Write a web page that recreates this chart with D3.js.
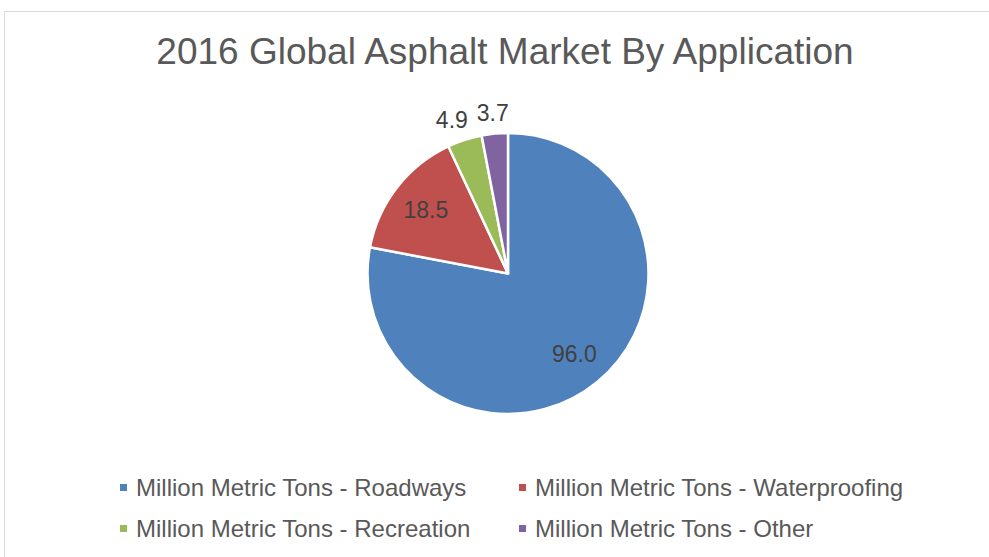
<!DOCTYPE html>
<html>
<head>
<meta charset="utf-8">
<script src="https://cdn.jsdelivr.net/npm/d3@7"></script>
<style>
    body { margin: 0; background: #fff; }
    text { font-family: "Liberation Sans", Arial, sans-serif; }
</style>
</head>
<body>
<div id="wrapper"></div>
<script>
const categories = ["Roadways", "Waterproofing", "Recreation", "Other"];
const values = [96.0, 18.5, 4.9, 3.7];
const seriesPrefix = "Million Metric Tons - ";
const colors = ["#4f81bd", "#c0504d", "#9bbb59", "#8064a2"];
const titleText = "2016 Global Asphalt Market By Application";

let dimension = {
    width: 989,
    height: 557,
    cx: 508,
    cy: 273.5,
    radius: 140.5
}

const svg = d3.select("#wrapper").append("svg")
    .attr("width", dimension.width)
    .attr("height", dimension.height);

// chart frame (only top and left edges are visible in the picture)
svg.append("path")
    .attr("d", "M4.5,557 L4.5,11.5 L989,11.5")
    .attr("fill", "none")
    .attr("stroke", "#d9d9d9")
    .attr("stroke-width", 1);

svg.append("text")
    .attr("x", 505)
    .attr("y", 64)
    .attr("text-anchor", "middle")
    .attr("font-size", 37)
    .attr("fill", "#595959")
    .text(titleText);

const data = categories.map((c, i) => ({ name: c, value: values[i], color: colors[i] }));

const pie = d3.pie().sort(null).value(d => d.value);
const arcs = pie(data);
const total = d3.sum(values);

const arc = d3.arc().innerRadius(0).outerRadius(dimension.radius);
const innerLabelArc = d3.arc().innerRadius(dimension.radius * 0.74).outerRadius(dimension.radius * 0.74);
const outerLabelArc = d3.arc().innerRadius(dimension.radius + 20.5).outerRadius(dimension.radius + 20.5);

const bounds = svg.append("g")
    .attr("transform", `translate(${dimension.cx},${dimension.cy})`);

bounds.selectAll("path.slice")
    .data(arcs)
    .enter()
    .append("path")
    .attr("class", "slice")
    .attr("d", arc)
    .attr("fill", d => d.data.color)
    .attr("stroke", "#ffffff")
    .attr("stroke-width", 2.5)
    .attr("stroke-linejoin", "round");

const labels = bounds.selectAll("text.label")
    .data(arcs)
    .enter()
    .append("text")
    .attr("class", "label")
    .attr("text-anchor", "middle")
    .attr("dy", "0.35em")
    .attr("font-size", 23)
    .attr("fill", "#404040")
    .text(d => d.data.value.toFixed(1))
    .each(function (d) {
        const inside = d.data.value / total > 0.1;
        const p = inside ? innerLabelArc.centroid(d) : outerLabelArc.centroid(d);
        d.lx = p[0];
        d.ly = p[1];
        d.w = this.getComputedTextLength();
    });

// push outside labels apart, right to left
const outside = arcs.filter(d => d.data.value / total <= 0.1).reverse();
for (let i = 1; i < outside.length; i++) {
    const prev = outside[i - 1], cur = outside[i];
    const limit = prev.lx - prev.w / 2 - 9;
    if (cur.lx + cur.w / 2 > limit) cur.lx = limit - cur.w / 2;
}

labels.attr("x", d => d.lx).attr("y", d => d.ly);

// legend: two columns, two rows
const legendItems = svg.append("g")
    .selectAll("g")
    .data(data)
    .enter()
    .append("g")
    .attr("transform", (d, i) => `translate(${120 + (i % 2) * 399},${496 + Math.floor(i / 2) * 41})`);

legendItems.append("rect")
    .attr("x", 0)
    .attr("y", -12)
    .attr("width", 7)
    .attr("height", 7)
    .attr("fill", d => d.color);

legendItems.append("text")
    .attr("x", 16)
    .attr("y", 0)
    .attr("font-size", 24)
    .attr("fill", "#595959")
    .text(d => seriesPrefix + d.name);
</script>
</body>
</html>
